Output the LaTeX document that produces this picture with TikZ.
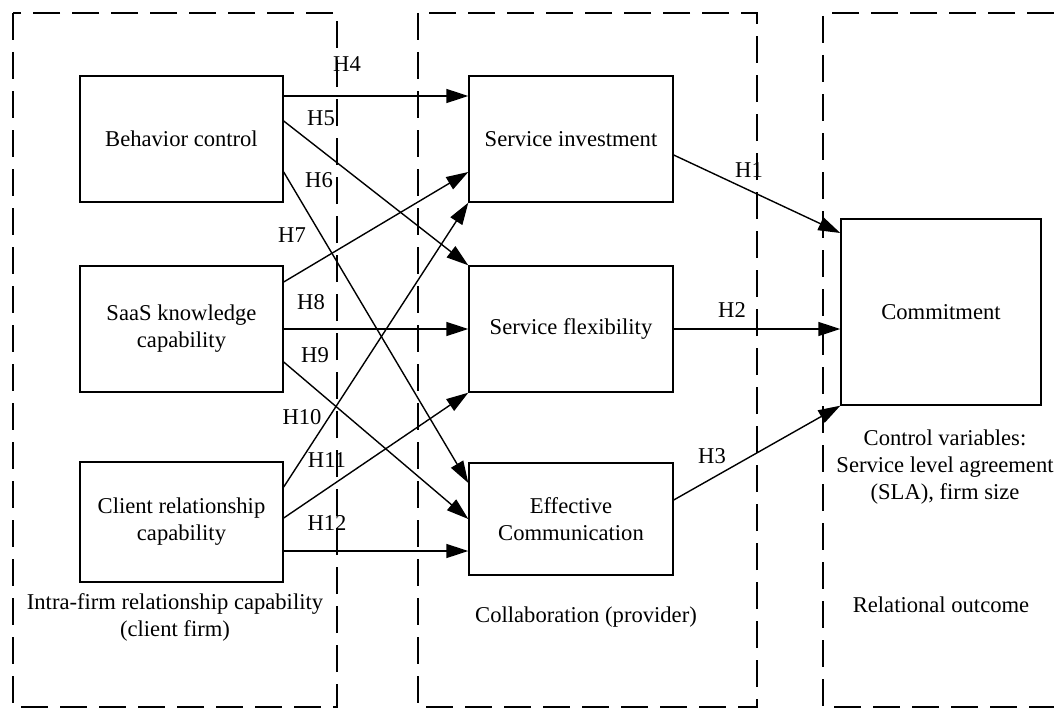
\documentclass[tikz,border=0pt]{standalone}
\usepackage{fontspec}
\setmainfont{Liberation Serif}
\usetikzlibrary{arrows.meta}
\begin{document}
\begin{tikzpicture}[x=1pt,y=-1pt,
  every node/.style={font=\fontsize{22.6}{27}\selectfont},
  box/.style={draw,line width=1.4pt,minimum width=203pt,align=center,inner sep=0pt},
  group/.style={draw,line width=1.4pt,dash pattern=on 27pt off 12pt},
  conn/.style={line width=1.4pt,-{Triangle[length=22pt,width=14pt]}},
  hlab/.style={inner sep=0pt}]
\useasboundingbox (0,0) rectangle (1054,709);
% groups
\draw[group] (13,13) rectangle (337,707);
\draw[group] (418,13) rectangle (757,707);
\draw[group] (1054,13) -- (823,13) -- (823,707) -- (1054,707);
% boxes
\node[box,minimum height=126pt] (bc) at (181.5,139) {Behavior control};
\node[box,minimum height=126pt] (sk) at (181.5,329) {SaaS knowledge\\capability};
\node[box,minimum height=120pt] (cr) at (181.5,522) {Client relationship\\capability};
\node[box,minimum width=204pt,minimum height=126pt] (si) at (571,139) {Service investment};
\node[box,minimum width=204pt,minimum height=126pt] (sf) at (571,329) {Service flexibility};
\node[box,minimum width=204pt,minimum height=112pt] (ec) at (571,519) {Effective\\Communication};
\node[box,minimum width=200pt,minimum height=186pt] (cm) at (941,312) {Commitment};
% captions
\node[align=center] (cv) at (945,467) {Control variables:\\Service level agreement\\(SLA), firm size};
\node[align=center] (g1) at (175,617) {Intra-firm relationship capability\\(client firm)};
\node (g2) at (586,617) {Collaboration (provider)};
\node (g3) at (941,605) {Relational outcome};
% connectors
\draw[conn] ([yshift=43pt]bc.east) -- ([yshift=43pt]si.west);
\draw[conn] ([yshift=18pt]bc.east) -- (sf.north west);
\draw[conn] ([yshift=-33pt]bc.east) -- ([yshift=36pt]ec.west);
\draw[conn] ([yshift=47pt]sk.east) -- ([yshift=-33pt]si.west);
\draw[conn] (sk.east) -- (sf.west);
\draw[conn] ([yshift=-33pt]sk.east) -- (ec.west);
\draw[conn] ([yshift=35pt]cr.east) -- (si.south west);
\draw[conn] ([yshift=4pt]cr.east) -- (sf.south west);
\draw[conn] ([yshift=-29pt]cr.east) -- ([yshift=-32pt]ec.west);
\draw[conn] ([yshift=-16pt]si.east) -- ([yshift=79pt]cm.west);
\draw[conn] (sf.east) -- ([yshift=-17pt]cm.west);
\draw[conn] ([yshift=19pt]ec.east) -- (cm.south west);
% labels
\node[hlab] (h4) at (347,64) {H4};
\node[hlab] (h5) at (321,118) {H5};
\node[hlab] (h6) at (319,180) {H6};
\node[hlab] (h7) at (292,235) {H7};
\node[hlab] (h8) at (311,302) {H8};
\node[hlab] (h9) at (315,355) {H9};
\node[hlab] (h10) at (302,417) {H10};
\node[hlab] (h11) at (327,460) {H11};
\node[hlab] (h12) at (327,523) {H12};
\node[hlab] (h1) at (749,170) {H1};
\node[hlab] (h2) at (732,310) {H2};
\node[hlab] (h3) at (712,456) {H3};
\end{tikzpicture}
\end{document}
